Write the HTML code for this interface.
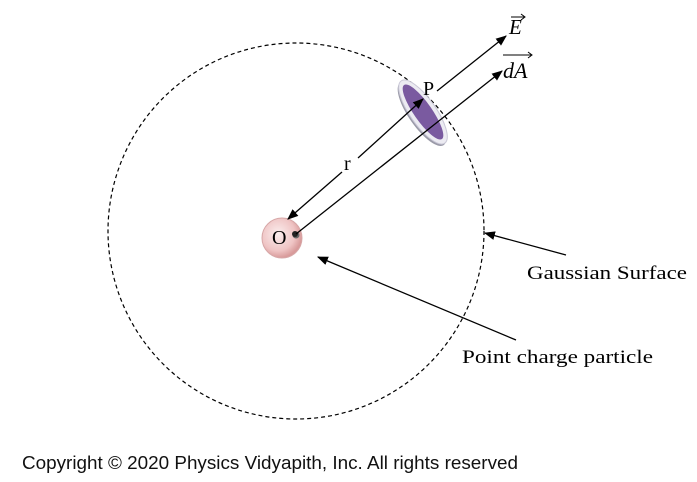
<!DOCTYPE html>
<html><head><meta charset="utf-8"><style>
html,body{margin:0;padding:0;background:#fff;}
svg{display:block;}
.serif{font-family:"Liberation Serif",serif;fill:#000;}
</style></head><body>
<svg width="697" height="482" viewBox="0 0 697 482">
<defs>
<marker id="ah" viewBox="0 0 10 10" refX="9" refY="5" markerWidth="11" markerHeight="11" markerUnits="userSpaceOnUse" orient="auto-start-reverse">
<path d="M0,1 L10,5 L0,9 z" fill="#000"/></marker>
<radialGradient id="sph" cx="0.4" cy="0.4" r="0.6">
<stop offset="0" stop-color="#fbeeee"/><stop offset="0.7" stop-color="#efc4c4"/><stop offset="1" stop-color="#d89a9a"/></radialGradient>
</defs>
<circle cx="296" cy="231" r="188" fill="none" stroke="#000" stroke-width="1.2" stroke-dasharray="4,3"/>
<g transform="translate(423,112) rotate(55)">
<ellipse cx="1" cy="2" rx="38" ry="13" fill="#9a9aa8"/>
<ellipse cx="0" cy="0" rx="38" ry="13" fill="#ecebf2" stroke="#c9c7d6" stroke-width="1"/>
<ellipse cx="0" cy="0" rx="33" ry="9" fill="#7a5aa0"/>
</g>
<circle cx="282" cy="238" r="20" fill="url(#sph)" stroke="#d7a7a7" stroke-width="1"/>
<text class="serif" x="272" y="244" font-size="20">O</text>
<circle cx="296" cy="235" r="3.5" fill="#666"/>
<circle cx="295" cy="234" r="3" fill="#222"/>
<line x1="342" y1="172" x2="288" y2="219" stroke="#000" stroke-width="1.3" marker-end="url(#ah)"/>
<line x1="358" y1="158" x2="423" y2="99" stroke="#000" stroke-width="1.3" marker-end="url(#ah)"/>
<text class="serif" x="344" y="170" font-size="20">r</text>
<line x1="437" y1="91" x2="506" y2="36" stroke="#000" stroke-width="1.3" marker-end="url(#ah)"/>
<line x1="296" y1="234" x2="502" y2="71" stroke="#000" stroke-width="1.3" marker-end="url(#ah)"/>
<text class="serif" x="423" y="95" font-size="20">P</text>
<text class="serif" x="509" y="34" font-size="21" font-style="italic">E</text>
<line x1="511" y1="17" x2="524" y2="17" stroke="#000" stroke-width="1"/><path d="M521,14 L525,17 L521,20" fill="none" stroke="#000" stroke-width="1"/>
<text class="serif" x="503" y="78" font-size="22" font-style="italic">dA</text>
<line x1="503" y1="55" x2="531" y2="55" stroke="#000" stroke-width="1"/><path d="M528,52 L532,55 L528,58" fill="none" stroke="#000" stroke-width="1"/>
<line x1="566" y1="255" x2="485" y2="233" stroke="#000" stroke-width="1.3" marker-end="url(#ah)"/>
<line x1="516" y1="340" x2="318" y2="257" stroke="#000" stroke-width="1.3" marker-end="url(#ah)"/>
<text class="serif" x="527" y="279" font-size="19" textLength="160" lengthAdjust="spacingAndGlyphs">Gaussian Surface</text>
<text class="serif" x="462" y="363" font-size="19" textLength="191" lengthAdjust="spacingAndGlyphs">Point charge particle</text>
<text x="22" y="469" font-family="Liberation Sans, sans-serif" font-size="18" fill="#111" textLength="496" lengthAdjust="spacingAndGlyphs">Copyright © 2020 Physics Vidyapith, Inc. All rights reserved</text>
</svg>
</body></html>
